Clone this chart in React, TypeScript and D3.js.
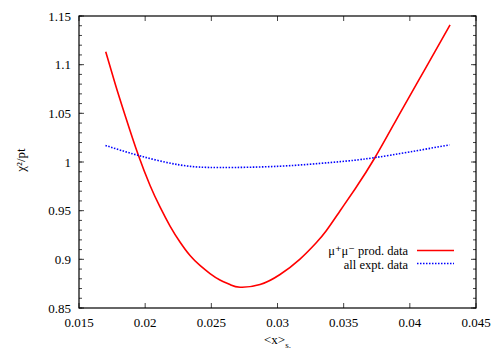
import React from 'react';
import * as d3 from 'd3';

// chi^2/pt vs <x>_s
const xTicks = [0.015, 0.02, 0.025, 0.03, 0.035, 0.04, 0.045];
const yTicks = [0.85, 0.9, 0.95, 1, 1.05, 1.1, 1.15];
const yMinor = d3.range(0.85, 1.1501, 0.01);

const muX = [0.01702, 0.01772, 0.01848, 0.01946, 0.02037, 0.02112, 0.02188, 0.02263, 0.02339, 0.02414, 0.0249, 0.02565, 0.02641, 0.02717,
  0.02868, 0.03019, 0.0317, 0.03291, 0.03367, 0.03472, 0.03586, 0.03737, 0.03926, 0.04115, 0.04304];
const muY = [1.1133, 1.0809, 1.048, 1.0079, 0.9759, 0.9538, 0.9342, 0.9178, 0.9039, 0.8937, 0.8854, 0.8788, 0.8741, 0.8713,
  0.8741, 0.8844, 0.9003, 0.9168, 0.9291, 0.9497, 0.9723, 1.0046, 1.0503, 1.0955, 1.1408];

const allX = [0.017, 0.0195, 0.0226, 0.0257, 0.0302, 0.034, 0.0374, 0.043];
const allY = [1.017, 1.0067, 0.997, 0.9943, 0.9957, 0.9995, 1.0046, 1.0176];

const W = 500, H = 350;
const m = { left: 79, right: 24, top: 16, bottom: 42 };
const font = "'Liberation Serif', 'DejaVu Serif', serif";

export default function App() {
  const x = d3.scaleLinear().domain([0.015, 0.045]).range([m.left, W - m.right]);
  const y = d3.scaleLinear().domain([0.85, 1.15]).range([H - m.bottom, m.top]);
  const redPath = d3.line<number>()
    .x(d => x(d))
    .y((d, i) => y(muY[i]))
    .curve(d3.curveNatural)(muX);
  const bluePath = d3.line<number>()
    .x(d => x(d))
    .y((d, i) => y(allY[i]))
    .curve(d3.curveNatural)(allX);
  const x0 = m.left, x1 = W - m.right, y0 = H - m.bottom, y1 = m.top;
  const tc = '#444';
  const fs = 13;

  return (
    <svg width={W} height={H} style={{ position: 'absolute', left: 0, top: 0, background: '#fff' }} fontFamily={font}>
      {yMinor.map((v, i) => (
        <g key={'ym' + i} stroke={tc} strokeWidth={1}>
          <line x1={x0} x2={x0 + 3} y1={y(v)} y2={y(v)} />
          <line x1={x1} x2={x1 - 3} y1={y(v)} y2={y(v)} />
        </g>
      ))}
      {yTicks.map(v => (
        <g key={'y' + v}>
          <line x1={x0} x2={x0 + 5} y1={y(v)} y2={y(v)} stroke={tc} />
          <line x1={x1} x2={x1 - 5} y1={y(v)} y2={y(v)} stroke={tc} />
          <text x={x0 - 8} y={y(v) + 4.5} textAnchor="end" fontSize={fs}>{String(v)}</text>
        </g>
      ))}
      {xTicks.map(v => (
        <g key={'x' + v}>
          <line x1={x(v)} x2={x(v)} y1={y0} y2={y0 - 5} stroke={tc} />
          <line x1={x(v)} x2={x(v)} y1={y1} y2={y1 + 5} stroke={tc} />
          <text x={x(v)} y={y0 + 19} textAnchor="middle" fontSize={fs}>{String(v)}</text>
        </g>
      ))}
      <path d={redPath || ''} fill="none" stroke="#ff0000" strokeWidth={1.6} />
      <path d={bluePath || ''} fill="none" stroke="#0000ff" strokeWidth={1.6} strokeDasharray="1.5,1.5" />
      <rect x={x0} y={y1} width={x1 - x0} height={y0 - y1} fill="none" stroke="#000" strokeWidth={1.2} />

      <text transform={`translate(25,${(y0 + y1) / 2 - 2}) rotate(-90)`} textAnchor="middle" fontSize={fs}>
        χ²/pt
      </text>
      <text x={(x0 + x1) / 2} y={H - 6} textAnchor="middle" fontSize={fs}>
        &lt;x&gt;<tspan dy={4} fontSize={9}>s.</tspan>
      </text>

      <text x={408} y={254.5} textAnchor="end" fontSize={12.5}>μ⁺μ⁻ prod. data</text>
      <line x1={417} x2={454} y1={250.5} y2={250.5} stroke="#ff0000" strokeWidth={1.6} />
      <text x={408} y={268.5} textAnchor="end" fontSize={12.5}>all expt. data</text>
      <line x1={417} x2={454} y1={263.5} y2={263.5} stroke="#0000ff" strokeWidth={1.6} strokeDasharray="1.5,1.5" />
    </svg>
  );
}
